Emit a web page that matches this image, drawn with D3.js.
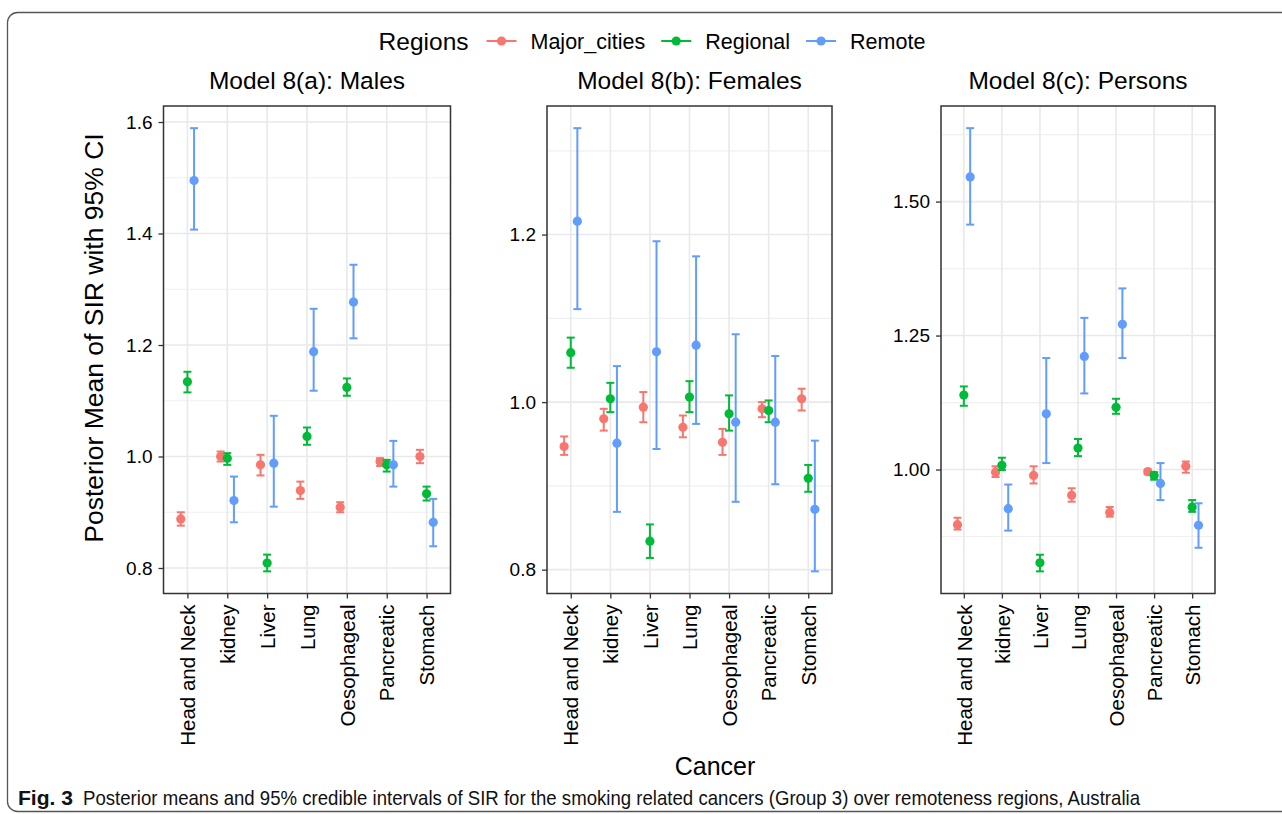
<!DOCTYPE html>
<html lang="en">
<head>
  <meta charset="UTF-8">
  <title>Posterior means of SIR by remoteness</title>
  <script src="https://d3js.org/d3.v7.min.js"></script>
  <style>
    body { margin: 0; background: #fff; }
    text { font-family: "Liberation Sans", Arial, sans-serif; }
  </style>
</head>
<body>
<script>
  // categories and groups
  const cancers = ['Head and Neck', 'kidney', 'Liver', 'Lung', 'Oesophageal', 'Pancreatic', 'Stomach'];
  const regions = ['Major_cities', 'Regional', 'Remote'];
  const regionColors = ['#F8766D', '#00BA38', '#619CFF'];

  // Model 8(a): Males  (rows = regions, cols = cancers)
  const malesMean = [
    [0.888, 1.000, 0.985, 0.939, 0.909, 0.991, 1.000],
    [1.134, 0.997, 0.809, 1.036, 1.124, 0.985, 0.933],
    [1.495, 0.921, 0.988, 1.188, 1.277, 0.985, 0.882]
  ];
  const malesLower = [
    [0.876, 0.991, 0.966, 0.924, 0.900, 0.983, 0.988],
    [1.115, 0.985, 0.794, 1.021, 1.109, 0.973, 0.921],
    [1.407, 0.882, 0.910, 1.118, 1.212, 0.946, 0.839]
  ];
  const malesUpper = [
    [0.900, 1.009, 1.003, 0.955, 0.918, 0.997, 1.012],
    [1.152, 1.006, 0.824, 1.052, 1.140, 0.994, 0.946],
    [1.589, 0.964, 1.073, 1.265, 1.344, 1.028, 0.924]
  ];

  // Model 8(b): Females
  const femalesMean = [
    [0.947, 0.980, 0.994, 0.970, 0.952, 0.992, 1.004],
    [1.059, 1.004, 0.834, 1.006, 0.986, 0.990, 0.909],
    [1.216, 0.951, 1.060, 1.068, 0.976, 0.976, 0.872]
  ];
  const femalesLower = [
    [0.937, 0.966, 0.976, 0.958, 0.937, 0.982, 0.990],
    [1.041, 0.988, 0.814, 0.988, 0.966, 0.976, 0.893],
    [1.111, 0.869, 0.944, 0.974, 0.881, 0.902, 0.798]
  ];
  const femalesUpper = [
    [0.959, 0.992, 1.012, 0.984, 0.968, 1.000, 1.016],
    [1.077, 1.023, 0.854, 1.025, 1.008, 1.002, 0.925],
    [1.327, 1.043, 1.192, 1.174, 1.081, 1.055, 0.954]
  ];

  // Model 8(c): Persons
  const personsMean = [
    [0.897, 0.995, 0.989, 0.952, 0.920, 0.996, 1.006],
    [1.139, 1.008, 0.826, 1.040, 1.116, 0.989, 0.930],
    [1.546, 0.927, 1.104, 1.211, 1.271, 0.974, 0.896]
  ];
  const personsLower = [
    [0.888, 0.986, 0.974, 0.940, 0.912, 0.991, 0.994],
    [1.119, 0.999, 0.810, 1.025, 1.104, 0.981, 0.921],
    [1.457, 0.886, 1.012, 1.142, 1.208, 0.943, 0.854]
  ];
  const personsUpper = [
    [0.910, 1.006, 1.006, 0.965, 0.930, 1.000, 1.015],
    [1.155, 1.022, 0.841, 1.057, 1.132, 0.995, 0.943],
    [1.637, 0.972, 1.208, 1.283, 1.338, 1.012, 0.937]
  ];

  // y tick labels per panel
  const malesTicks = [0.8, 1.0, 1.2, 1.4, 1.6];
  const femalesTicks = [0.8, 1.0, 1.2];
  const personsTicks = [1.00, 1.25, 1.50];

  const panelTitles = ['Model 8(a): Males', 'Model 8(b): Females', 'Model 8(c): Persons'];

  const width = 1282;
  const height = 814;

  const svg = d3.select('body').append('svg')
    .attr('width', width)
    .attr('height', height);

  // outer frame (rounded box, runs off the right edge)
  svg.append('rect')
    .attr('x', 7.5).attr('y', 12.5)
    .attr('width', 1300).attr('height', 799)
    .attr('rx', 10)
    .attr('fill', 'none')
    .attr('stroke', '#555')
    .attr('stroke-width', 1.3);

  // panel boxes
  const panels = [
    { title: panelTitles[0], mean: malesMean, lo: malesLower, hi: malesUpper, ticks: malesTicks, fmt: '.1f', x0: 163.5, x1: 450.5 },
    { title: panelTitles[1], mean: femalesMean, lo: femalesLower, hi: femalesUpper, ticks: femalesTicks, fmt: '.1f', x0: 547, x1: 832 },
    { title: panelTitles[2], mean: personsMean, lo: personsLower, hi: personsUpper, ticks: personsTicks, fmt: '.2f', x0: 941, x1: 1215 }
  ];
  const panelTop = 106;
  const panelBottom = 593.5;

  panels.forEach(p => {
    const g = svg.append('g');

    // y domain from data range, expanded 5% like ggplot
    const minV = d3.min(p.lo.flat());
    const maxV = d3.max(p.hi.flat());
    const pad = (maxV - minV) * 0.05;
    const y = d3.scaleLinear().domain([minV - pad, maxV + pad]).range([panelBottom, panelTop]);

    const x = d3.scalePoint().domain(cancers).range([p.x0, p.x1]).padding(0.6);
    const step = x.step();
    const dodge = d3.scalePoint().domain(regions).range([-step / 6, step / 6]);

    // minor grid: midpoints between major ticks
    const tstep = p.ticks[1] - p.ticks[0];
    const minor = d3.range(p.ticks[0] - tstep / 2, p.ticks[p.ticks.length - 1] + tstep, tstep)
      .filter(v => v > y.domain()[0] && v < y.domain()[1]);

    g.selectAll('.minor').data(minor).enter().append('line')
      .attr('x1', p.x0).attr('x2', p.x1)
      .attr('y1', d => y(d)).attr('y2', d => y(d))
      .attr('stroke', '#f0f0f0').attr('stroke-width', 1.2);

    g.selectAll('.majorY').data(p.ticks).enter().append('line')
      .attr('x1', p.x0).attr('x2', p.x1)
      .attr('y1', d => y(d)).attr('y2', d => y(d))
      .attr('stroke', '#e9e9e9').attr('stroke-width', 1.6);

    g.selectAll('.majorX').data(cancers).enter().append('line')
      .attr('x1', d => x(d)).attr('x2', d => x(d))
      .attr('y1', panelTop).attr('y2', panelBottom)
      .attr('stroke', '#e9e9e9').attr('stroke-width', 1.6);

    // error bars and points
    regions.forEach((r, ri) => {
      const rows = cancers.map((c, ci) => ({
        c, m: p.mean[ri][ci], lo: p.lo[ri][ci], hi: p.hi[ri][ci]
      }));
      const cx = d => x(d.c) + dodge(r);
      const col = regionColors[ri];

      g.selectAll(null).data(rows).enter().append('line')
        .attr('x1', cx).attr('x2', cx)
        .attr('y1', d => y(d.lo)).attr('y2', d => y(d.hi))
        .attr('stroke', col).attr('stroke-width', 2);

      ['lo', 'hi'].forEach(k => {
        g.selectAll(null).data(rows).enter().append('line')
          .attr('x1', d => cx(d) - 4).attr('x2', d => cx(d) + 4)
          .attr('y1', d => y(d[k])).attr('y2', d => y(d[k]))
          .attr('stroke', col).attr('stroke-width', 2);
      });

      g.selectAll(null).data(rows).enter().append('circle')
        .attr('cx', cx).attr('cy', d => y(d.m))
        .attr('r', 4.6)
        .attr('fill', col);
    });

    // panel border
    g.append('rect')
      .attr('x', p.x0).attr('y', panelTop)
      .attr('width', p.x1 - p.x0).attr('height', panelBottom - panelTop)
      .attr('fill', 'none').attr('stroke', '#333').attr('stroke-width', 1.5);

    // y axis
    const yAxis = g.append('g')
      .attr('transform', `translate(${p.x0},0)`)
      .call(d3.axisLeft(y).tickValues(p.ticks).tickFormat(d3.format(p.fmt)).tickSize(5).tickPadding(6));
    yAxis.select('.domain').remove();
    yAxis.selectAll('.tick line').attr('stroke', '#333').attr('stroke-width', 1.3);
    yAxis.selectAll('.tick text')
      .attr('fill', '#000')
      .style('font-size', '19px')
      .style('font-family', '"Liberation Sans", Arial, sans-serif');

    // x axis with rotated labels
    const xAxis = g.append('g')
      .attr('transform', `translate(0,${panelBottom})`)
      .call(d3.axisBottom(x).tickSize(5).tickPadding(6));
    xAxis.select('.domain').remove();
    xAxis.selectAll('.tick line').attr('stroke', '#333').attr('stroke-width', 1.3);
    xAxis.selectAll('.tick text')
      .attr('fill', '#000')
      .attr('transform', 'rotate(-90)')
      .attr('text-anchor', 'end')
      .attr('x', -11)
      .attr('y', 0)
      .attr('dy', '0.35em')
      .style('font-size', '20.5px')
      .style('font-family', '"Liberation Sans", Arial, sans-serif');

    // panel title
    g.append('text')
      .attr('x', (p.x0 + p.x1) / 2)
      .attr('y', 89)
      .attr('text-anchor', 'middle')
      .attr('fill', '#000')
      .style('font-size', '24.5px')
      .text(p.title);
  });

  // shared axis titles
  svg.append('text')
    .attr('transform', 'translate(103,338) rotate(-90)')
    .attr('text-anchor', 'middle')
    .attr('fill', '#000')
    .style('font-size', '26.5px')
    .text('Posterior Mean of SIR with 95% CI');

  svg.append('text')
    .attr('x', 715)
    .attr('y', 775)
    .attr('text-anchor', 'middle')
    .attr('fill', '#000')
    .style('font-size', '25px')
    .text('Cancer');

  // legend, laid out left to right and centred
  const legend = svg.append('g');
  const legendY = 41;
  const ltitle = legend.append('text')
    .attr('y', legendY + 8.5)
    .attr('fill', '#000')
    .style('font-size', '24.5px')
    .text('Regions');
  let lx = ltitle.node().getComputedTextLength() + 18;
  regions.forEach((r, i) => {
    const key = legend.append('g').attr('transform', `translate(${lx},${legendY})`);
    key.append('line').attr('x1', 0).attr('x2', 30)
      .attr('stroke', regionColors[i]).attr('stroke-width', 2);
    key.append('circle').attr('cx', 15).attr('r', 4.6).attr('fill', regionColors[i]);
    const t = legend.append('text')
      .attr('x', lx + 44)
      .attr('y', legendY + 7.5)
      .attr('fill', '#000')
      .style('font-size', '21.5px')
      .text(r);
    lx += 44 + t.node().getComputedTextLength() + 16;
  });
  const legendW = lx - 16;
  legend.attr('transform', `translate(${652 - legendW / 2},0)`);

  // caption
  svg.append('text')
    .attr('x', 18).attr('y', 805)
    .attr('fill', '#111')
    .attr('font-weight', 'bold')
    .attr('textLength', 55)
    .attr('lengthAdjust', 'spacingAndGlyphs')
    .style('font-size', '21px')
    .text('Fig. 3');
  svg.append('text')
    .attr('x', 83).attr('y', 805)
    .attr('fill', '#111')
    .attr('textLength', 1057)
    .attr('lengthAdjust', 'spacingAndGlyphs')
    .style('font-size', '21px')
    .text('Posterior means and 95% credible intervals of SIR for the smoking related cancers (Group 3) over remoteness regions, Australia');
</script>
</body>
</html>
